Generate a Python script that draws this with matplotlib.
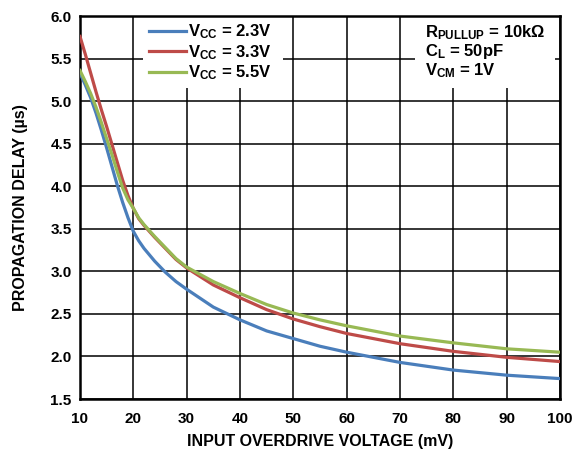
import numpy as np
import matplotlib
matplotlib.use("Agg")
import matplotlib.pyplot as plt
from matplotlib.patches import Rectangle

plt.rcParams['font.family'] = ['Liberation Sans', 'DejaVu Sans']
plt.rcParams['font.weight'] = 'bold'
plt.rcParams['mathtext.fontset'] = 'custom'
plt.rcParams['mathtext.rm'] = 'Liberation Sans:bold'
plt.rcParams['mathtext.bf'] = 'Liberation Sans:bold'
plt.rcParams['mathtext.it'] = 'Liberation Sans:bold'

# overdrive voltage (mV)
vod = [10, 11, 12, 13, 14, 15, 16, 17, 18, 19, 20, 21, 22, 24, 26, 28, 30,
       35, 40, 45, 50, 55, 60, 70, 80, 90, 100]
# propagation delay (us)
delay_23 = [5.33, 5.19, 5.04, 4.86, 4.66, 4.45, 4.23, 4.01, 3.81, 3.63, 3.47, 3.36, 3.27, 3.12, 2.99, 2.88, 2.79,
            2.58, 2.43, 2.30, 2.21, 2.12, 2.05, 1.93, 1.84, 1.78, 1.74]
delay_33 = [5.76, 5.55, 5.33, 5.11, 4.90, 4.70, 4.49, 4.28, 4.07, 3.89, 3.74, 3.62, 3.54, 3.40, 3.27, 3.14, 3.04,
            2.84, 2.69, 2.55, 2.44, 2.35, 2.27, 2.15, 2.06, 1.99, 1.94]
delay_55 = [5.36, 5.23, 5.09, 4.93, 4.75, 4.56, 4.37, 4.17, 3.98, 3.84, 3.74, 3.63, 3.55, 3.41, 3.28, 3.15, 3.05,
            2.88, 2.74, 2.61, 2.51, 2.43, 2.36, 2.24, 2.16, 2.09, 2.05]

labels = [r'V$_\mathrm{CC}$ = 2.3V', r'V$_\mathrm{CC}$ = 3.3V', r'V$_\mathrm{CC}$ = 5.5V']
colors = ['#4a7ebb', '#be4b48', '#98b954']

xticks = [10, 20, 30, 40, 50, 60, 70, 80, 90, 100]
yticks = [1.5, 2.0, 2.5, 3.0, 3.5, 4.0, 4.5, 5.0, 5.5, 6.0]

fig = plt.figure(figsize=(5.73, 4.5), dpi=100)
ax = fig.add_axes([0.1396, 0.1133, 0.8377, 0.8511])

for ys, lab, c in zip([delay_23, delay_33, delay_55], labels, colors):
    ax.plot(vod, ys, color=c, lw=2.3, label=lab, zorder=3)

ax.set_xlim(10, 100)
ax.set_ylim(1.5, 6.0)
ax.set_xticks(xticks)
ax.set_yticks(yticks)
ax.set_yticklabels(['%.1f' % v for v in yticks])
ax.tick_params(length=0, labelsize=11)
ax.tick_params(axis='x', pad=9)
ax.tick_params(axis='y', pad=6)
ax.grid(True, color='black', lw=1.1)
ax.set_axisbelow(True)
for s in ax.spines.values():
    s.set_linewidth(1.8)

ax.set_xlabel('INPUT OVERDRIVE VOLTAGE (mV)', fontsize=11.5, fontweight='bold', labelpad=6)
ax.set_ylabel('PROPAGATION DELAY (µs)', fontsize=11.5, fontweight='bold', labelpad=16)

# white boxes behind legend and conditions
ax.add_patch(Rectangle((0.131, 0.812), 0.292, 0.19, transform=ax.transAxes,
                       facecolor='white', edgecolor='none', zorder=1.5))
ax.add_patch(Rectangle((0.698, 0.812), 0.292, 0.19, transform=ax.transAxes,
                       facecolor='white', edgecolor='none', zorder=1.5))

leg = ax.legend(loc='upper left', bbox_to_anchor=(0.13, 1.0), frameon=False,
                fontsize=12, handlelength=2.2, handletextpad=0.15, labelspacing=0.1,
                borderaxespad=0.0)

ax.text(0.719, 0.98, 'R$_\\mathrm{PULLUP}$ = 10kΩ\nC$_\\mathrm{L}$ = 50pF\nV$_\\mathrm{CM}$ = 1V',
        transform=ax.transAxes, ha='left', va='top', fontsize=12, linespacing=1.0, zorder=4)

fig.savefig('out.png', dpi=100)
